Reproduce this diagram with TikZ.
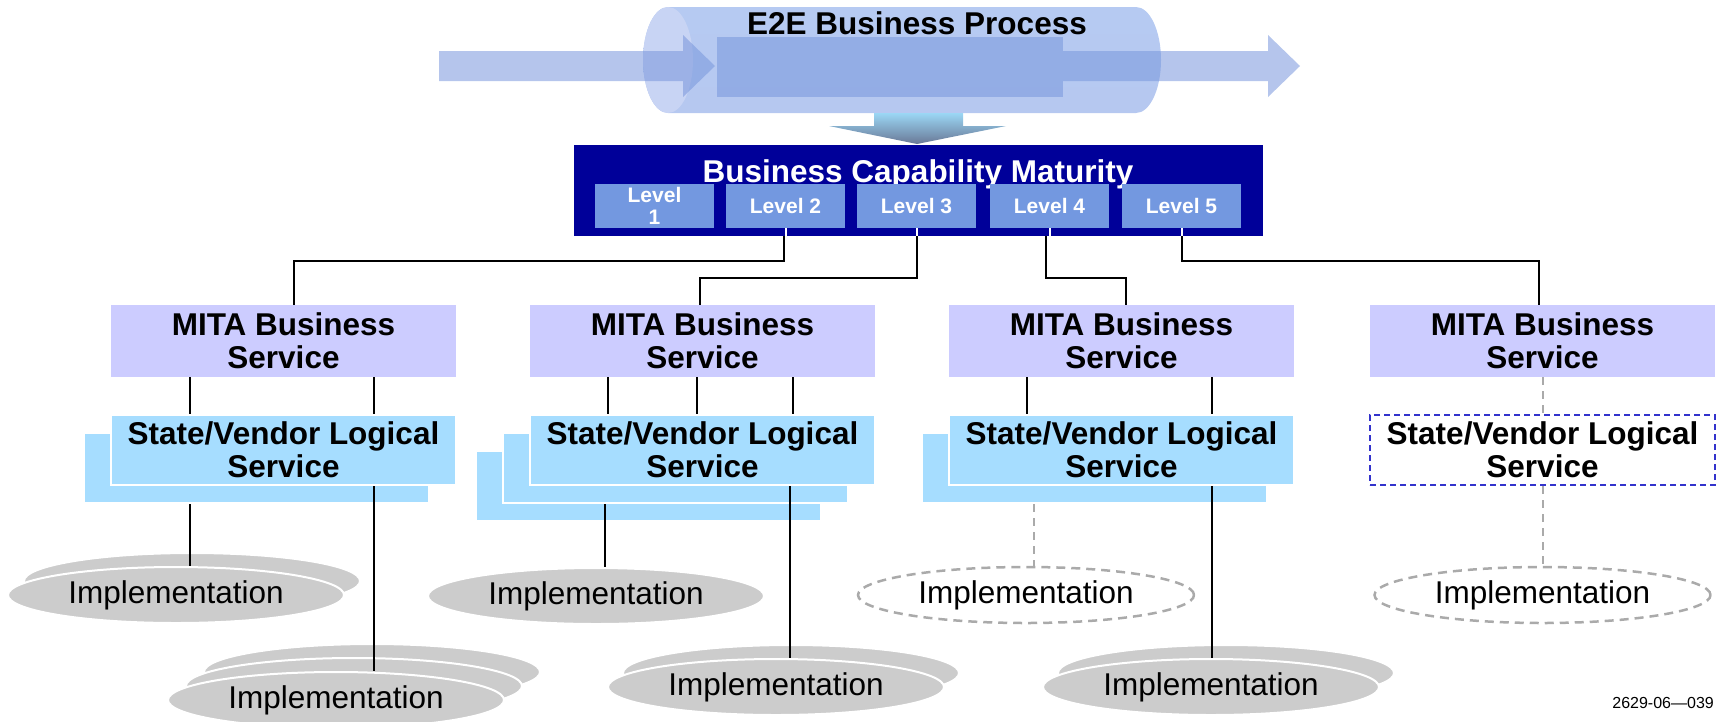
\documentclass[tikz,border=0pt]{standalone}
\usepackage{fontspec}
\setmainfont{Liberation Sans}
\usepackage{tikz}
\usetikzlibrary{shapes.geometric}
\definecolor{lpurple}{RGB}{204, 204, 255}
\definecolor{lblue}{RGB}{166, 221, 255}
\definecolor{navy}{RGB}{0, 0, 153}
\definecolor{niceblue}{RGB}{115, 152, 224}
\definecolor{lgray}{RGB}{204, 204, 204}
\definecolor{dgray}{RGB}{170, 170, 170}
\definecolor{dashblue}{RGB}{51, 51, 204}
\definecolor{pipeT}{RGB}{182, 202, 242}
\definecolor{pipeM}{RGB}{158, 214, 250}
\definecolor{pipeB}{RGB}{182, 200, 240}
\definecolor{pipeE}{RGB}{200, 212, 244}
\definecolor{flow}{RGB}{120, 150, 220}
\definecolor{dropT}{RGB}{155, 215, 245}
\definecolor{dropB}{RGB}{105, 120, 150}
\newcommand{\bigfont}{\fontsize{31.5}{33}\selectfont}
\tikzset{
	mita/.style = {fill = lpurple, minimum width = 345pt, minimum height = 72pt, inner sep = 0pt, align = center, font = \bfseries\bigfont},
	logic/.style = {fill = lblue, draw = white, line width = 2pt, minimum width = 345pt, minimum height = 70pt, inner sep = 0pt, align = center, font = \bfseries\bigfont},
	optlogic/.style = {logic, fill = white, draw = dashblue, dash pattern = on 6pt off 4pt},
	impl/.style = {ellipse, fill = lgray, draw = white, line width = 2pt, minimum width = 336pt, minimum height = 56pt, inner sep = 0pt, font = \bigfont},
	optimpl/.style = {impl, fill = none, draw = dgray, line width = 2.5pt, dash pattern = on 9pt off 6pt},
	lvbox/.style = {fill = niceblue, minimum width = 119pt, minimum height = 44pt, inner sep = 0pt, text = white, align = center, font = \bfseries\fontsize{21}{22}\selectfont},
	wire/.style = {draw, line width = 2pt},
	tick/.style = {draw = white, line width = 2pt},
	optwire/.style = {draw = dgray, line width = 2pt, dash pattern = on 8pt off 6pt}
}
\begin{document}
\begin{tikzpicture}[x = 1pt, y = -1pt]
			\useasboundingbox (0,0) rectangle (1718,721);
			\shade [top color = pipeT, middle color = pipeM, bottom color = pipeB] (668,7) -- (1136,7) arc [start angle = -90, end angle = 90, x radius = 25, y radius = 53] -- (668,113) arc [start angle = 90, end angle = 270, x radius = 25, y radius = 53] -- cycle;
			\fill [pipeE] (668,60) ellipse [x radius = 25, y radius = 53];
			\fill [flow, opacity = 0.55] (439,51) -- (683,51) -- (683,35) -- (715,66) -- (683,97) -- (683,81) -- (439,81) -- cycle;
			\fill [flow, opacity = 0.55] (717,37) rectangle (1063,97);
			\fill [flow, opacity = 0.55] (1063,51) -- (1268,51) -- (1268,35) -- (1300,66) -- (1268,97) -- (1268,81) -- (1063,81) -- cycle;
			\node (e2e) at (917,34) [anchor = base, font = \bfseries\bigfont] {E2E Business Process};
			\shade [top color = dropT, bottom color = dropB] (874,113) -- (963,113) -- (963,126) -- (1006,126) -- (917,144) -- (829,126) -- (874,126) -- cycle;
			\node (bcm) at (918.5,190.5) [fill = navy, minimum width = 689pt, minimum height = 91pt] {};
			\node (bcmt) at (918,182.5) [anchor = base, text = white, font = \bfseries\bigfont] {Business Capability Maturity};
			\node (l1) at (654.5,206) [lvbox] {Level\\1};
			\node (l2) at (785.5,206) [lvbox] {Level 2};
			\node (l3) at (916.5,206) [lvbox] {Level 3};
			\node (l4) at (1049.5,206) [lvbox] {Level 4};
			\node (l5) at (1181.5,206) [lvbox] {Level 5};
			\node (m1) at (283.5,341) [mita] {MITA Business\\Service};
			\node (m2) at (702.5,341) [mita] {MITA Business\\Service};
			\node (m3) at (1121.5,341) [mita] {MITA Business\\Service};
			\node (m4) at (1542.5,341) [mita] {MITA Business\\Service};
			\draw [tick] (l2.south) -- (l2.south |- bcm.south);
			\draw [tick] (l3.south) -- (l3.south |- bcm.south);
			\draw [tick] (l4.south) -- (l4.south |- bcm.south);
			\draw [tick] (l5.south) -- (l5.south |- bcm.south);
			\draw [wire] ([xshift = -2pt]l2.south |- bcm.south) -- ++(0,25) -| ([xshift = 10.5pt]m1.north);
			\draw [wire] (l3.south |- bcm.south) -- ++(0,42) -| ([xshift = -2.5pt]m2.north);
			\draw [wire] ([xshift = -4pt]l4.south |- bcm.south) -- ++(0,42) -| ([xshift = 4.5pt]m3.north);
			\draw [wire] (l5.south |- bcm.south) -- ++(0,25) -| ([xshift = -3.5pt]m4.north);
			\node (g1b) at (256.5,468) [logic] {};
			\node (g1a) at (283.5,450) [logic] {State/Vendor Logical\\Service};
			\node (g2c) at (648.5,486) [logic] {};
			\node (g2b) at (675.5,468) [logic] {};
			\node (g2a) at (702.5,450) [logic] {State/Vendor Logical\\Service};
			\node (g3b) at (1094.5,468) [logic] {};
			\node (g3a) at (1121.5,450) [logic] {State/Vendor Logical\\Service};
			\node (g4) at (1542.5,450) [optlogic] {State/Vendor Logical\\Service};
			\draw [wire] ([xshift = -93.5pt]m1.south) -- ([xshift = -93.5pt]g1a.north);
			\draw [wire] ([xshift = 90.5pt]m1.south) -- ([xshift = 90.5pt]g1a.north);
			\draw [wire] ([xshift = -94.5pt]m2.south) -- ([xshift = -94.5pt]g2a.north);
			\draw [wire] ([xshift = -5.5pt]m2.south) -- ([xshift = -5.5pt]g2a.north);
			\draw [wire] ([xshift = 90.5pt]m2.south) -- ([xshift = 90.5pt]g2a.north);
			\draw [wire] ([xshift = -94.5pt]m3.south) -- ([xshift = -94.5pt]g3a.north);
			\draw [wire] ([xshift = 90.5pt]m3.south) -- ([xshift = 90.5pt]g3a.north);
			\draw [optwire] (m4.south) -- (g4.north);
			\node (i1b) at (192,581) [impl] {};
			\node (i1a) at (176,595) [impl] {Implementation};
			\node (j1c) at (372,672) [impl] {};
			\node (j1b) at (354,686) [impl] {};
			\node (j1a) at (336,700) [impl] {Implementation};
			\node (i2a) at (596,596) [impl] {Implementation};
			\node (j2b) at (791,673) [impl] {};
			\node (j2a) at (776,687) [impl] {Implementation};
			\node (i3) at (1026,595) [optimpl] {Implementation};
			\node (j3b) at (1226,673) [impl] {};
			\node (j3a) at (1211,687) [impl] {Implementation};
			\node (i4) at (1542.5,595) [optimpl] {Implementation};
			\draw [wire] ([xshift = -66.5pt]g1b.south) -- ([xshift = 14pt]i1a.north);
			\draw [wire] ([xshift = 90.5pt]g1a.south) -- ([xshift = 38pt]j1a.north);
			\draw [wire] ([xshift = -70.5pt]g2b.south) -- ([xshift = 9pt]i2a.north);
			\draw [wire] ([xshift = 87.5pt]g2a.south) -- ([xshift = 14pt]j2a.north);
			\draw [optwire] ([xshift = -60.5pt]g3b.south) -- ([xshift = 8pt]i3.north);
			\draw [wire] ([xshift = 90.5pt]g3a.south) -- ([xshift = 1pt]j3a.north);
			\draw [optwire] (g4.south) -- (i4.north);
			\node (code) at (1714,708) [anchor = base east, inner sep = 0pt, font = \fontsize{16}{18}\selectfont] {2629-06—039};
			\end{tikzpicture}
\end{document}
